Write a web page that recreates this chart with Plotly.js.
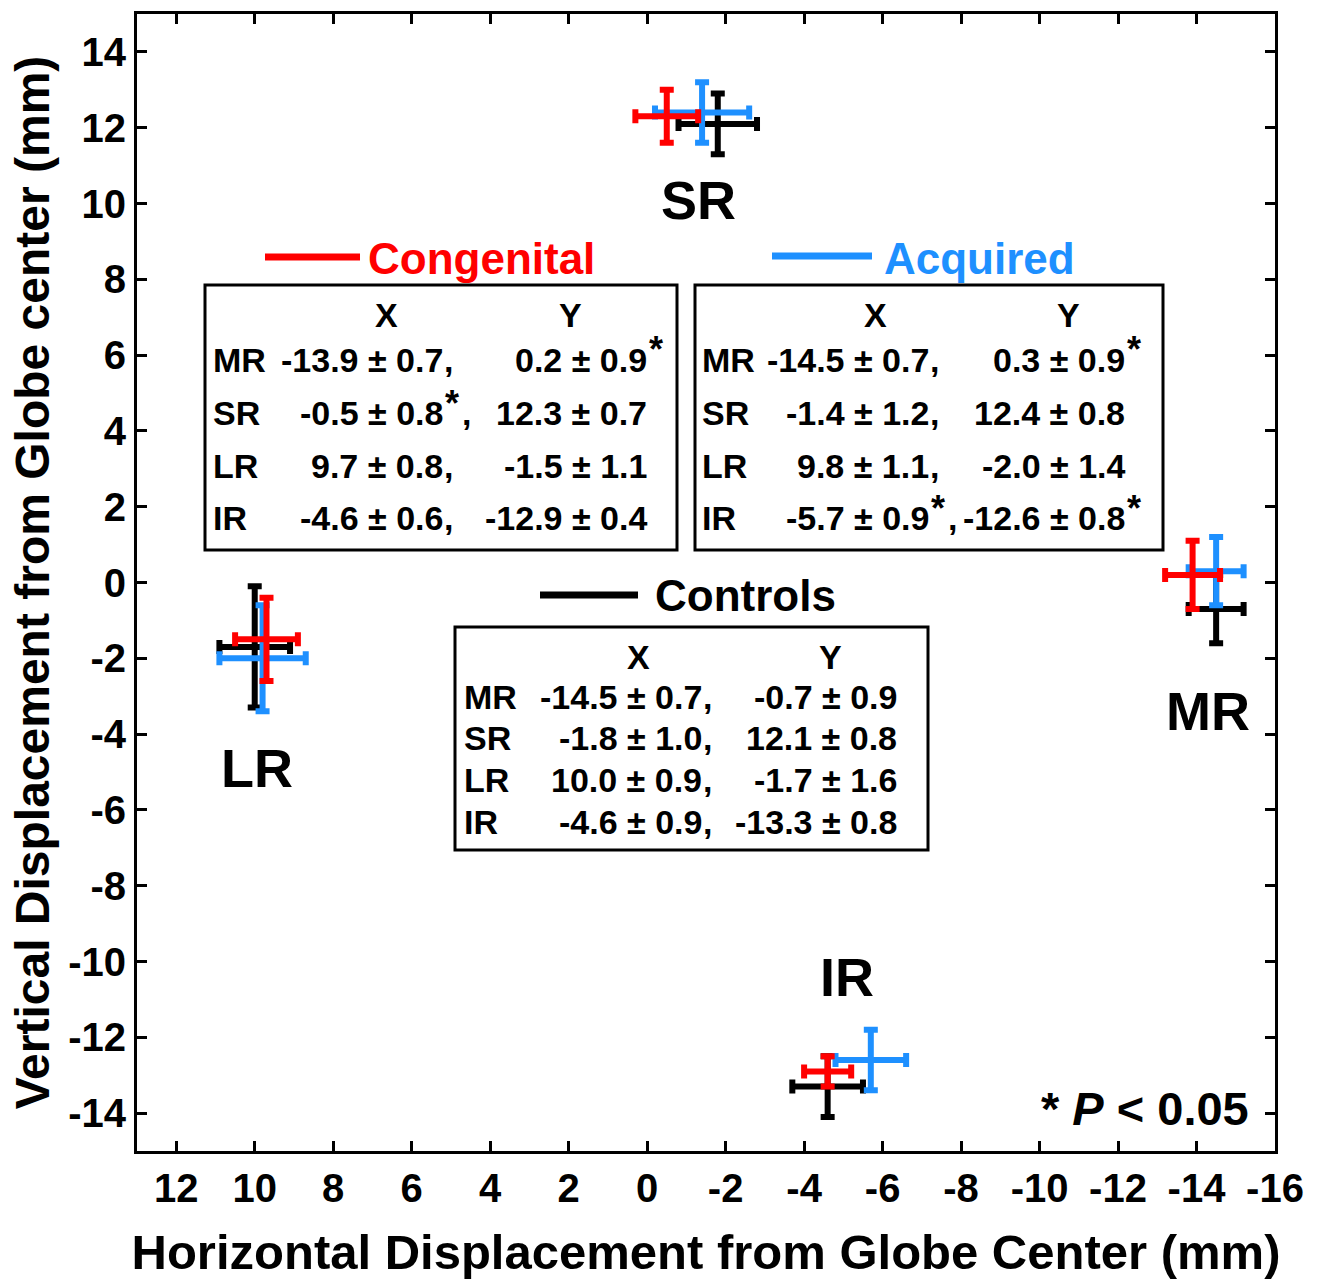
<!DOCTYPE html>
<html>
<head>
<meta charset="utf-8">
<script src="https://cdn.plot.ly/plotly-3.0.1.min.js"></script>
<style>html,body{margin:0;padding:0;background:#fff;}#chart{width:1324px;height:1281px;}</style>
</head>
<body>
<div id="chart"></div>
<script>
// ---- data ----
var muscles = ['MR', 'SR', 'LR', 'IR'];

var congX    = [-13.9, -0.5, 9.7, -4.6];
var congXsd  = [0.7, 0.8, 0.8, 0.6];
var congY    = [0.2, 12.3, -1.5, -12.9];
var congYsd  = [0.9, 0.7, 1.1, 0.4];
var congXsig = [false, true, false, false];
var congYsig = [true, false, false, false];

var acqX    = [-14.5, -1.4, 9.8, -5.7];
var acqXsd  = [0.7, 1.2, 1.1, 0.9];
var acqY    = [0.3, 12.4, -2.0, -12.6];
var acqYsd  = [0.9, 0.8, 1.4, 0.8];
var acqXsig = [false, false, false, true];
var acqYsig = [true, false, false, true];

var ctrlX    = [-14.5, -1.8, 10.0, -4.6];
var ctrlXsd  = [0.7, 1.0, 0.9, 0.9];
var ctrlY    = [-0.7, 12.1, -1.7, -13.3];
var ctrlYsd  = [0.9, 0.8, 1.6, 0.8];
var ctrlXsig = [false, false, false, false];
var ctrlYsig = [false, false, false, false];

var xTicks = [12, 10, 8, 6, 4, 2, 0, -2, -4, -6, -8, -10, -12, -14, -16];
var yTicks = [14, 12, 10, 8, 6, 4, 2, 0, -2, -4, -6, -8, -10, -12, -14];

// ---- styling / layout ----
var RED = 'rgb(255,0,0)', BLUE = 'rgb(30,144,255)', BLACK = '#000';
var FAM = 'Liberation Sans, Arial, Helvetica, sans-serif';
var ML = 137, MR_ = 49, MT = 14, MB = 130, W = 1324, H = 1281;
var PW = W - ML - MR_, PH = H - MT - MB;
function PX(p) { return (p - ML) / PW; }
function PY(p) { return (H - MB - p) / PH; }

function errTrace(name, xs, xsd, ys, ysd, color) {
  return {
    type: 'scatter', mode: 'markers', name: name,
    x: xs, y: ys,
    marker: {size: 1, color: color, opacity: 0},
    error_x: {type: 'data', array: xsd, visible: true, color: color, thickness: 6, width: 7},
    error_y: {type: 'data', array: ysd, visible: true, color: color, thickness: 6, width: 7},
    showlegend: false, hoverinfo: 'skip'
  };
}

var traces = [
  errTrace('Controls', ctrlX, ctrlXsd, ctrlY, ctrlYsd, BLACK),
  errTrace('Acquired', acqX, acqXsd, acqY, acqYsd, BLUE),
  errTrace('Congenital', congX, congXsd, congY, congYsd, RED)
];

var tables = [
  {name: 'Congenital', color: RED, xs: congX, xsd: congXsd, ys: congY, ysd: congYsd, xsig: congXsig, ysig: congYsig,
   box: [205, 285, 677, 550], line: [265, 360, 257], labelX: 366, labelY: 258,
   hdrX: 386, hdrY: 570, hdrRow: 315, rows: [360, 413, 466, 518], rowLabelX: 211, xEnd: 445, yEnd: 649},
  {name: 'Acquired', color: BLUE, xs: acqX, xsd: acqXsd, ys: acqY, ysd: acqYsd, xsig: acqXsig, ysig: acqYsig,
   box: [695, 285, 1163, 550], line: [772, 872, 256], labelX: 882, labelY: 258,
   hdrX: 875, hdrY: 1068, hdrRow: 315, rows: [360, 413, 466, 518], rowLabelX: 700, xEnd: 931, yEnd: 1127},
  {name: 'Controls', color: BLACK, xs: ctrlX, xsd: ctrlXsd, ys: ctrlY, ysd: ctrlYsd, xsig: ctrlXsig, ysig: ctrlYsig,
   box: [455, 627, 928, 850], line: [540, 638, 595], labelX: 653, labelY: 595,
   hdrX: 638, hdrY: 830, hdrRow: 657, rows: [697, 738, 780, 822], rowLabelX: 462, xEnd: 704, yEnd: 899}
];

var shapes = [], annotations = [];
var TF = 34;
function ann(text, xp, yp, xanchor, size, color, extra) {
  var a = {text: text, xref: 'paper', yref: 'paper', x: PX(xp), y: PY(yp),
    xanchor: xanchor, yanchor: 'middle', showarrow: false,
    font: {family: FAM, size: size, color: color || BLACK, weight: 'bold'}};
  if (extra) for (var k in extra) a[k] = extra[k];
  annotations.push(a);
}
function fmt(v) { return v.toFixed(1); }

tables.forEach(function (t) {
  shapes.push({type: 'rect', xref: 'paper', yref: 'paper',
    x0: PX(t.box[0]), x1: PX(t.box[2]), y0: PY(t.box[1]), y1: PY(t.box[3]),
    line: {color: BLACK, width: 3}, fillcolor: 'rgba(0,0,0,0)'});
  shapes.push({type: 'line', xref: 'paper', yref: 'paper',
    x0: PX(t.line[0]), x1: PX(t.line[1]), y0: PY(t.line[2]), y1: PY(t.line[2]),
    line: {color: t.color, width: 7}});
  ann(t.name, t.labelX, t.labelY, 'left', 44, t.color);
  ann('X', t.hdrX, t.hdrRow, 'center', TF);
  ann('Y', t.hdrY, t.hdrRow, 'center', TF);
  muscles.forEach(function (m, i) {
    var ry = t.rows[i];
    ann(m, t.rowLabelX, ry, 'left', TF);
    ann(fmt(t.xs[i]) + ' ± ' + fmt(t.xsd[i]), t.xEnd, ry, 'right', TF);
    if (t.xsig[i]) ann('*', t.xEnd - 2, ry - 10, 'left', 36);
    ann(',', t.xEnd - 3 + (t.xsig[i] ? 18 : 0), ry, 'left', TF);
    ann(fmt(t.ys[i]) + ' ± ' + fmt(t.ysd[i]), t.yEnd, ry, 'right', TF);
    if (t.ysig[i]) ann('*', t.yEnd - 2, ry - 10, 'left', 36);
  });
});

// muscle labels (data coordinates)
var muscleLabelPos = {SR: [-1.3, 10.1], LR: [9.95, -4.9], MR: [-14.3, -3.4], IR: [-5.1, -10.4]};
muscles.forEach(function (m) {
  annotations.push({text: m, xref: 'x', yref: 'y', x: muscleLabelPos[m][0], y: muscleLabelPos[m][1],
    xanchor: 'center', yanchor: 'middle', showarrow: false,
    font: {family: FAM, size: 54, color: BLACK, weight: 'bold'}});
});

ann('* <i>P</i> &lt; 0.05', 1251, 1108, 'right', 47);

var axisCommon = {
  showline: true, linecolor: BLACK, linewidth: 3, mirror: 'ticks',
  ticks: 'inside', ticklen: 10, tickwidth: 3, tickcolor: BLACK,
  showgrid: false, zeroline: false, tickmode: 'array',
  tickfont: {family: FAM, size: 40, color: BLACK, weight: 'bold'}
};

var layout = {
  width: W, height: H,
  margin: {l: ML, r: MR_, t: MT, b: MB, pad: 0},
  paper_bgcolor: '#fff', plot_bgcolor: '#fff',
  font: {family: FAM, color: BLACK},
  showlegend: false,
  xaxis: Object.assign({}, axisCommon, {
    range: [13, -16], tickvals: xTicks, ticktext: xTicks.map(String),
    title: {text: 'Horizontal Displacement from Globe Center (mm)', standoff: 26,
      font: {family: FAM, size: 49, color: BLACK, weight: 'bold'}},
    automargin: false
  }),
  yaxis: Object.assign({}, axisCommon, {
    range: [-15, 15], tickvals: yTicks, ticktext: yTicks.map(String),
    title: {text: 'Vertical Displacement from Globe center (mm)', standoff: 4,
      font: {family: FAM, size: 48, color: BLACK, weight: 'bold'}},
    automargin: false
  }),
  shapes: shapes,
  annotations: annotations
};

Plotly.newPlot('chart', traces, layout, {displayModeBar: false, staticPlot: true});
</script>
</body>
</html>
